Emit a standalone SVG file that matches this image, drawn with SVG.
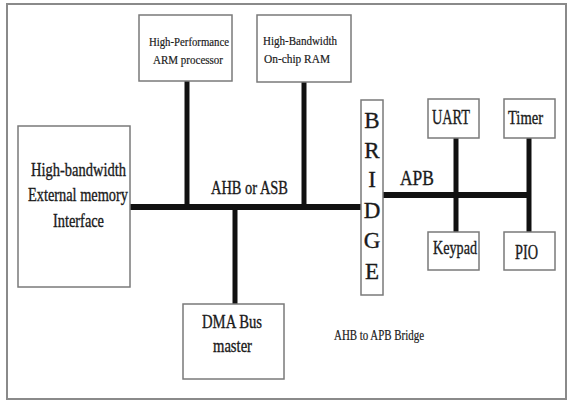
<svg xmlns="http://www.w3.org/2000/svg" width="568" height="401" viewBox="0 0 568 401">
  <style>
    .frame { fill: #ffffff; stroke: #8a8a8a; stroke-width: 2; }
    .box { fill: #ffffff; stroke: #7a7a7a; stroke-width: 1.5; }
    .bus { stroke: #111111; stroke-linecap: butt; fill: none; }
    .main { stroke-width: 6; }
    .tap { stroke-width: 5; }
    text { fill: #1a1a1a; stroke: #1a1a1a; stroke-width: 0.35; }
    .s { font-size: 13.5px; stroke-width: 0.2; }
    .m { font-size: 19px; }
    .l { font-size: 21px; }
    .br { font-size: 23px; text-anchor: middle; }
    .note { font-size: 14px; stroke-width: 0.2; }
  </style>

  <rect class="frame" x="7" y="4" width="559" height="395"/>

  <!-- bus lines -->
  <g id="connectors">
    <line class="bus main" x1="130" y1="207" x2="361" y2="207"/>
    <line class="bus tap" x1="187" y1="81" x2="187" y2="207"/>
    <line class="bus tap" x1="304" y1="82" x2="304" y2="207"/>
    <line class="bus tap" x1="235" y1="207" x2="235" y2="304"/>
    <line class="bus main" x1="383" y1="195" x2="531" y2="195"/>
    <line class="bus tap" x1="456" y1="138" x2="456" y2="232"/>
    <line class="bus tap" x1="529" y1="133" x2="529" y2="232"/>
  </g>

  <g font-family="'Liberation Serif', 'DejaVu Serif', serif">
    <g id="arm">
      <rect class="box" x="139" y="15" width="93" height="66"/>
      <text class="s" x="149" y="46" textLength="80" lengthAdjust="spacingAndGlyphs">High-Performance</text>
      <text class="s" x="153" y="64" textLength="70" lengthAdjust="spacingAndGlyphs">ARM processor</text>
    </g>

    <g id="ram">
      <rect class="box" x="257" y="15" width="94" height="67"/>
      <text class="s" x="263" y="45" textLength="74" lengthAdjust="spacingAndGlyphs">High-Bandwidth</text>
      <text class="s" x="264" y="63" textLength="66" lengthAdjust="spacingAndGlyphs">On-chip RAM</text>
    </g>

    <g id="ext-memory">
      <rect class="box" x="18" y="126" width="112" height="161"/>
      <text class="m" x="31" y="176" textLength="95" lengthAdjust="spacingAndGlyphs">High-bandwidth</text>
      <text class="m" x="28" y="201" textLength="100" lengthAdjust="spacingAndGlyphs">External memory</text>
      <text class="m" x="53" y="227" textLength="51" lengthAdjust="spacingAndGlyphs">Interface</text>
    </g>

    <g id="dma">
      <rect class="box" x="183" y="304" width="101" height="75"/>
      <text class="m" x="202" y="328" textLength="60" lengthAdjust="spacingAndGlyphs">DMA Bus</text>
      <text class="m" x="213" y="352" textLength="39" lengthAdjust="spacingAndGlyphs">master</text>
    </g>

    <g id="bridge">
      <rect class="box" x="361" y="100" width="22" height="195"/>
      <text class="br" x="372" y="128">B</text>
      <text class="br" x="372" y="158">R</text>
      <text class="br" x="372" y="187">I</text>
      <text class="br" x="372" y="218">D</text>
      <text class="br" x="372" y="248">G</text>
      <text class="br" x="372" y="279">E</text>
    </g>

    <g id="uart">
      <rect class="box" x="428" y="99" width="51" height="39"/>
      <text class="l" x="432" y="124" textLength="38" lengthAdjust="spacingAndGlyphs">UART</text>
    </g>

    <g id="timer">
      <rect class="box" x="504" y="99" width="51" height="39"/>
      <text class="m" x="508" y="124" textLength="35" lengthAdjust="spacingAndGlyphs">Timer</text>
    </g>

    <g id="keypad">
      <rect class="box" x="428" y="232" width="51" height="38"/>
      <text class="m" x="433" y="254" textLength="44" lengthAdjust="spacingAndGlyphs">Keypad</text>
    </g>

    <g id="pio">
      <rect class="box" x="504" y="232" width="51" height="38"/>
      <text class="l" x="515" y="259" textLength="23" lengthAdjust="spacingAndGlyphs">PIO</text>
    </g>

    <!-- bus labels -->
    <text class="m" x="211" y="194" textLength="77" lengthAdjust="spacingAndGlyphs">AHB or ASB</text>
    <text class="l" x="400" y="185" font-size="24" textLength="34" lengthAdjust="spacingAndGlyphs">APB</text>
    <text class="note" x="334" y="340" textLength="90" lengthAdjust="spacingAndGlyphs">AHB to APB Bridge</text>
  </g>
</svg>
